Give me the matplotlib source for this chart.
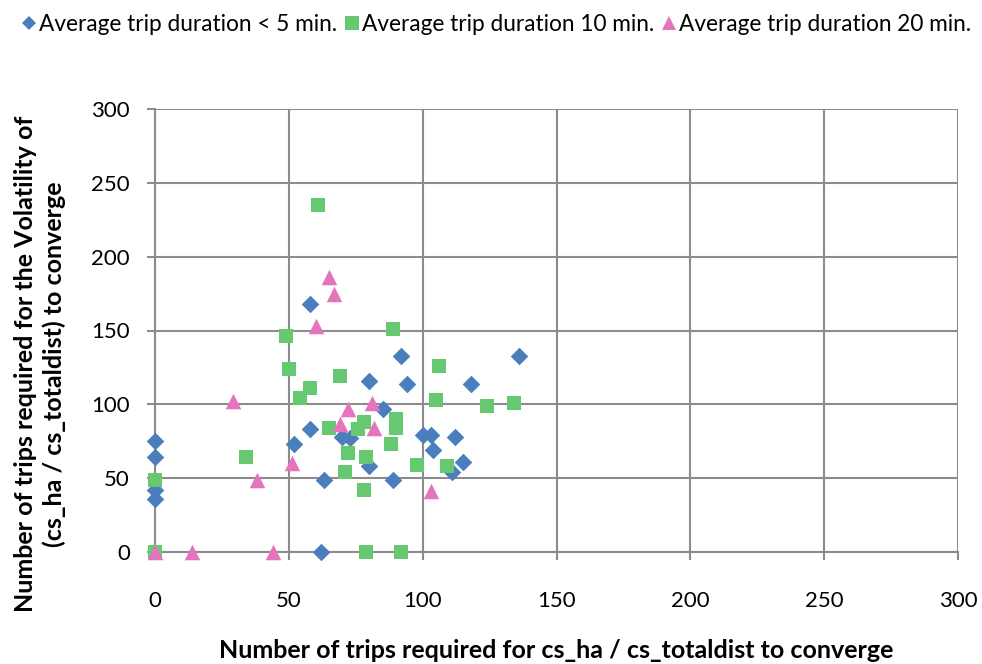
import matplotlib
matplotlib.use("Agg")
import matplotlib.pyplot as plt
from matplotlib.lines import Line2D

plt.rcParams['font.family'] = ['Lato', 'DejaVu Sans']

# Trips needed for convergence, per average trip duration group
short_x = [0, 0, 0, 0, 58, 58, 52, 70, 73, 80, 85, 63, 62, 89, 92, 94, 80,
           100, 103, 104, 112, 111, 115, 118, 136]
short_y = [75, 64, 42, 36, 168, 83, 73, 78, 77, 58, 97, 49, 0, 49, 133, 114,
           116, 79, 79, 69, 78, 54, 61, 114, 133]

mid_x = [0, 0, 34, 49, 50, 61, 58, 54, 69, 89, 106, 105, 124, 134, 65, 78,
         76, 90, 90, 88, 72, 79, 71, 98, 109, 78, 79, 92]
mid_y = [0, 49, 64, 146, 124, 235, 111, 104, 119, 151, 126, 103, 99, 101, 84,
         88, 83, 90, 84, 73, 67, 64, 54, 59, 58, 42, 0, 0]

long_x = [0, 14, 44, 29, 38, 51, 60, 65, 67, 72, 81, 69, 82, 103]
long_y = [0, 0, 0, 102, 49, 60, 153, 186, 175, 97, 101, 87, 84, 41]

series_labels = ["Average trip duration < 5 min.",
                 "Average trip duration 10 min.",
                 "Average trip duration 20 min."]
ticks = [0, 50, 100, 150, 200, 250, 300]

blue = '#4A7EBD'
green = '#66C971'
pink = '#E474BC'
grid_c = '#8C8C8C'

fig = plt.figure(figsize=(9.82, 6.64), dpi=100)
ax = fig.add_axes([155 / 982, 1 - 552 / 664, 803 / 982, 443 / 664])

ax.scatter(short_x, short_y, marker='D', s=80, color=blue, linewidths=0,
           zorder=3, clip_on=False)
ax.scatter(mid_x, mid_y, marker='s', s=112, color=green, linewidths=0,
           zorder=4, clip_on=False)
ax.scatter(long_x, long_y, marker='^', s=125, color=pink, linewidths=0,
           zorder=5, clip_on=False)

ax.set_xlim(0, 300)
ax.set_ylim(0, 300)
ax.set_xticks(ticks)
ax.set_yticks(ticks)
ax.grid(True, color=grid_c, linewidth=1.5)
ax.set_axisbelow(True)
for side in ['top', 'right']:
    ax.spines[side].set_visible(False)
for side in ['left', 'bottom']:
    ax.spines[side].set_color(grid_c)
    ax.spines[side].set_linewidth(1.5)
ax.tick_params(axis='both', colors=grid_c, length=6, width=1.5,
               labelsize=16, labelcolor='black')
ax.tick_params(axis='x', pad=22)
ax.tick_params(axis='y', pad=12)

ax.set_xlabel("Number of trips required for cs_ha / cs_totaldist to converge",
              fontsize=18, fontweight='bold', labelpad=20)
ax.set_ylabel("Number of trips required for the Volatility of\n"
              "(cs_ha / cs_totaldist) to converge",
              fontsize=18, fontweight='bold', labelpad=18, linespacing=1.3)
ax.yaxis.label.set_y(0.424)

handles = [
    Line2D([], [], marker='D', linestyle='none', markersize=7, color=blue,
           markeredgewidth=0),
    Line2D([], [], marker='s', linestyle='none', markersize=10, color=green,
           markeredgewidth=0),
    Line2D([], [], marker='^', linestyle='none', markersize=10, color=pink,
           markeredgewidth=0),
]
fig.legend(handles, series_labels, loc='upper center',
           bbox_to_anchor=(0.505, 1.0), ncol=3, frameon=False, fontsize=16.3,
           handlelength=0.7, handletextpad=0.1, columnspacing=0.3,
           borderaxespad=0.2)

fig.savefig('out.png', dpi=100)
